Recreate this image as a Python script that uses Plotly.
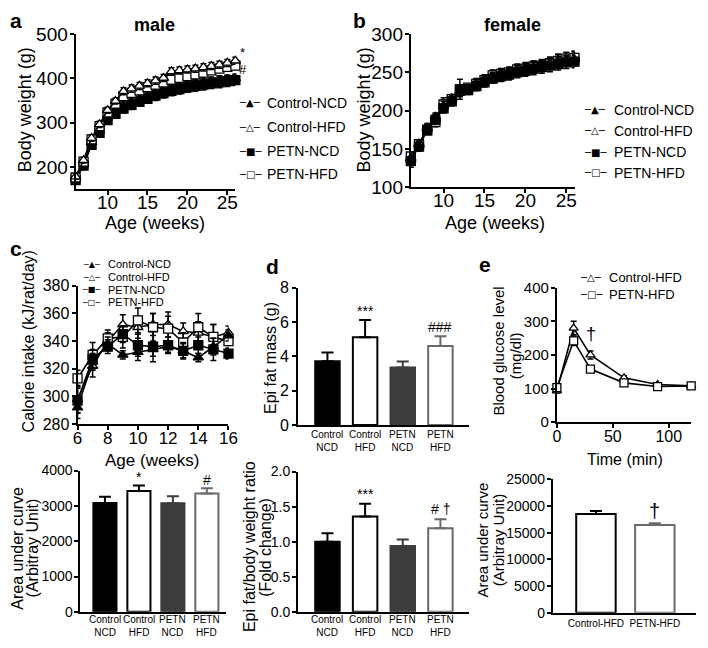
import plotly.graph_objects as go

W, H = 708, 648

# ---------------- data ----------------
groups = ["Control-NCD", "Control-HFD", "PETN-NCD", "PETN-HFD"]
cat_labels = ["Control<br>NCD", "Control<br>HFD", "PETN<br>NCD", "PETN<br>HFD"]

# (a) male body weight
weeks_body = [6, 7, 8, 9, 10, 11, 12, 13, 14, 15, 16, 17, 18, 19, 20, 21, 22, 23, 24, 25, 26]
male_control_ncd = [174, 206, 255, 282, 311, 327, 340, 348, 355, 362, 368, 373, 378, 382, 385, 388, 391, 393, 396, 398, 400]
male_control_hfd = [178, 215, 265, 296, 328, 349, 371, 377, 383, 389, 395, 401, 416, 418, 420, 422, 425, 428, 431, 435, 440]
male_petn_ncd = [170, 203, 250, 277, 306, 320, 332, 340, 347, 354, 361, 367, 372, 376, 380, 383, 386, 389, 391, 394, 396]
male_petn_hfd = [176, 212, 262, 292, 323, 343, 360, 367, 373, 380, 386, 391, 397, 401, 405, 409, 413, 418, 422, 426, 429]
male_err_control_ncd = [8, 8, 8, 8, 8, 8, 9, 9, 9, 9, 9, 9, 9, 9, 9, 10, 10, 10, 10, 10, 10]
male_err_control_hfd = [6, 6, 7, 7, 7, 7, 8, 8, 8, 8, 8, 8, 8, 8, 8, 8, 8, 8, 8, 8, 8]
male_err_petn_ncd = [8, 9, 9, 9, 9, 10, 10, 10, 10, 10, 11, 11, 11, 11, 11, 12, 12, 12, 12, 12, 12]
male_err_petn_hfd = [7, 7, 7, 7, 7, 8, 8, 8, 8, 8, 8, 8, 8, 8, 8, 8, 8, 8, 8, 8, 8]

# (b) female body weight
female_control_ncd = [138, 157, 176, 192, 206, 214, 226, 229, 234, 239, 244, 247, 249, 252, 254, 256, 258, 261, 263, 265, 267]
female_control_hfd = [136, 155, 178, 189, 210, 216, 224, 228, 236, 241, 247, 249, 251, 253, 256, 258, 260, 263, 266, 268, 270]
female_petn_ncd = [134, 153, 174, 188, 203, 212, 228, 227, 232, 237, 242, 245, 247, 250, 252, 255, 257, 259, 261, 263, 264]
female_petn_hfd = [140, 156, 175, 185, 208, 215, 226, 230, 235, 240, 246, 248, 250, 254, 255, 258, 259, 262, 265, 268, 269]
female_err_control_ncd = [7, 5, 5, 5, 6, 5, 6, 5, 6, 6, 6, 6, 6, 7, 7, 7, 7, 7, 7, 7, 7]
female_err_control_hfd = [6, 5, 5, 6, 7, 5, 6, 5, 6, 6, 6, 6, 6, 7, 7, 7, 7, 7, 8, 8, 8]
female_err_petn_ncd = [8, 6, 5, 6, 6, 6, 13, 6, 6, 6, 6, 7, 7, 7, 7, 8, 8, 8, 8, 8, 8]
female_err_petn_hfd = [6, 5, 6, 6, 6, 5, 6, 5, 6, 6, 6, 6, 6, 7, 7, 7, 7, 7, 8, 8, 8]

# (c) calorie intake
weeks_cal = [6, 7, 8, 9, 10, 11, 12, 13, 14, 15, 16]
cal_control_ncd = [292, 325, 338, 330, 332, 334, 336, 333, 328, 336, 344]
cal_control_hfd = [298, 322, 340, 352, 350, 352, 352, 347, 346, 343, 346]
cal_petn_ncd = [297, 327, 336, 345, 337, 336, 337, 333, 337, 334, 331]
cal_petn_hfd = [313, 330, 342, 343, 355, 350, 349, 339, 350, 343, 340]
cal_err_control_ncd = [8, 6, 5, 3, 6, 5, 4, 5, 3, 6, 4]
cal_err_control_hfd = [10, 8, 6, 7, 8, 8, 9, 6, 8, 9, 5]
cal_err_petn_ncd = [9, 7, 5, 6, 8, 11, 6, 6, 6, 8, 4]
cal_err_petn_hfd = [6, 9, 6, 8, 9, 10, 9, 7, 10, 9, 6]

cal_auc = [3080, 3420, 3075, 3350]
cal_auc_err = [180, 160, 200, 150]
cal_auc_marks = ["", "*", "", "#"]

# (d) epididymal fat
epi_fat = [3.72, 5.12, 3.35, 4.60]
epi_fat_err = [0.50, 1.00, 0.36, 0.58]
epi_fat_marks = ["", "***", "", "###"]
epi_ratio = [1.00, 1.36, 0.94, 1.19]
epi_ratio_err = [0.12, 0.18, 0.09, 0.13]
epi_ratio_marks = ["", "***", "", "# \u2020"]

# (e) glucose tolerance
ipgtt_groups = ["Control-HFD", "PETN-HFD"]
time_min = [0, 15, 30, 60, 90, 120]
glucose_control_hfd = [93, 280, 200, 132, 112, 108]
glucose_control_hfd_err = [6, 20, 12, 6, 5, 4]
glucose_petn_hfd = [103, 242, 158, 117, 106, 108]
glucose_petn_hfd_err = [5, 14, 5, 4, 4, 4]
glucose_auc = [18500, 16450]
glucose_auc_err = [550, 320]

# ---------------- styling helpers ----------------
FONT = "Liberation Sans, Arial, sans-serif"
GLYPH = "DejaVu Sans, sans-serif"


def xd(l, r):
    return [l / W, r / W]


def yd(t, b):
    return [1 - b / H, 1 - t / H]


def px(x):
    return x / W


def py(y):
    return 1 - y / H


axis_base = dict(showline=True, linecolor="black", linewidth=2, ticks="outside", ticklen=4,
                 tickwidth=2, tickcolor="black", showgrid=False, zeroline=False,
                 fixedrange=True, color="black")

layout = dict(width=W, height=H, margin=dict(l=0, r=0, t=0, b=0), paper_bgcolor="white",
              plot_bgcolor="white", showlegend=False, barmode="overlay",
              font=dict(family=FONT, color="black"))


def set_axes(i, xdom, ydom, xcfg, ycfg):
    xn = "xaxis" if i == 1 else f"xaxis{i}"
    yn = "yaxis" if i == 1 else f"yaxis{i}"
    layout[xn] = dict(axis_base, domain=xdom, anchor="y" if i == 1 else f"y{i}", **xcfg)
    layout[yn] = dict(axis_base, domain=ydom, anchor="x" if i == 1 else f"x{i}", **ycfg)


def ref(i):
    return ("x", "y") if i == 1 else (f"x{i}", f"y{i}")


# axes layout (pixel positions)
set_axes(1, xd(72, 235), yd(25, 185),
         dict(range=[6, 26], tickvals=[10, 15, 20, 25], tickfont=dict(size=19), ticklabelstandoff=-9),
         dict(range=[150, 500], tickvals=[200, 300, 400, 500], tickfont=dict(size=19), ticklabelstandoff=-2))
set_axes(2, xd(414, 581), yd(25, 183),
         dict(range=[6, 26], tickvals=[10, 15, 20, 25], tickfont=dict(size=19), ticklabelstandoff=-9),
         dict(range=[100, 300], tickvals=[100, 150, 200, 250, 300], tickfont=dict(size=19),
              ticklabelstandoff=-2))
set_axes(3, xd(74, 228), yd(285, 428),
         dict(range=[6, 16], tickvals=[6, 8, 10, 12, 14, 16], tickfont=dict(size=17), ticklabelstandoff=-7),
         dict(range=[280, 380], tickvals=[280, 300, 320, 340, 360, 380], tickfont=dict(size=16),
              ticklabelstandoff=-1))
set_axes(4, xd(77, 225), yd(476, 622),
         dict(type="category", range=[-0.72, 3.55], ticks="", showticklabels=False),
         dict(range=[0, 4000], tickvals=[0, 1000, 2000, 3000, 4000], tickfont=dict(size=14),
              ticklabelstandoff=-1))
set_axes(5, xd(299, 473), yd(287, 429),
         dict(type="category", range=[-0.78, 3.75], ticks="", showticklabels=False),
         dict(range=[0, 8], tickvals=[0, 2, 4, 6, 8], tickfont=dict(size=16)))
set_axes(6, xd(299, 473), yd(477, 622),
         dict(type="category", range=[-0.78, 3.75], ticks="", showticklabels=False),
         dict(range=[0, 2], tickvals=[0, 0.5, 1, 1.5, 2], tickformat=".1f", tickfont=dict(size=14),
              ticklabelstandoff=-1))
set_axes(7, xd(563, 700), yd(287, 426),
         dict(range=[0, 120], tickvals=[0, 50, 100], tickfont=dict(size=16), ticklabelstandoff=-5),
         dict(range=[0, 400], tickvals=[0, 100, 200, 300, 400], tickfont=dict(size=15),
              ticklabelstandoff=-1))
set_axes(8, xd(559, 705), yd(485, 623),
         dict(type="category", range=[-0.73, 1.7], ticks="", tickfont=dict(size=10)),
         dict(range=[0, 25000], tickvals=[0, 5000, 10000, 15000, 20000, 25000], tickformat="d",
              tickfont=dict(size=14), ticklabelstandoff=-1))

fig = go.Figure()

# ---------------- line charts ----------------
line_styles = {
    "Control-NCD": dict(symbol="triangle-up", color="black"),
    "Control-HFD": dict(symbol="triangle-up", color="white"),
    "PETN-NCD": dict(symbol="square", color="black"),
    "PETN-HFD": dict(symbol="square", color="white"),
}


def add_lines(i, xs, series, errs, names, msize):
    xr, yr = ref(i)
    for name, ys, es in zip(names, series, errs):
        st = line_styles[name]
        fig.add_trace(go.Scatter(
            x=xs, y=ys, mode="lines+markers", name=name, xaxis=xr, yaxis=yr,
            line=dict(color="black", width=1.6),
            marker=dict(symbol=st["symbol"], size=msize, color=st["color"],
                        line=dict(color="black", width=1.3)),
            error_y=dict(type="data", array=es, color="black", thickness=1.5, width=3),
            cliponaxis=False))


add_lines(1, weeks_body,
          [male_control_ncd, male_petn_ncd, male_petn_hfd, male_control_hfd],
          [male_err_control_ncd, male_err_petn_ncd, male_err_petn_hfd, male_err_control_hfd],
          ["Control-NCD", "PETN-NCD", "PETN-HFD", "Control-HFD"], 9)
add_lines(2, weeks_body,
          [female_control_hfd, female_petn_hfd, female_control_ncd, female_petn_ncd],
          [female_err_control_hfd, female_err_petn_hfd, female_err_control_ncd, female_err_petn_ncd],
          ["Control-HFD", "PETN-HFD", "Control-NCD", "PETN-NCD"], 9)
add_lines(3, weeks_cal,
          [cal_control_hfd, cal_petn_hfd, cal_control_ncd, cal_petn_ncd],
          [cal_err_control_hfd, cal_err_petn_hfd, cal_err_control_ncd, cal_err_petn_ncd],
          ["Control-HFD", "PETN-HFD", "Control-NCD", "PETN-NCD"], 9)
add_lines(7, time_min,
          [glucose_control_hfd, glucose_petn_hfd],
          [glucose_control_hfd_err, glucose_petn_hfd_err],
          ["Control-HFD", "PETN-HFD"], 8)

# ---------------- bar charts ----------------
bar_fill = {"Control-NCD": "black", "Control-HFD": "white", "PETN-NCD": "#3c3c3c", "PETN-HFD": "white"}
bar_edge = {"Control-NCD": "black", "Control-HFD": "black", "PETN-NCD": "#3c3c3c", "PETN-HFD": "#6a6a6a"}


def add_bars(i, cats, vals, errs, width):
    xr, yr = ref(i)
    for c, v, e in zip(cats, vals, errs):
        fig.add_trace(go.Bar(
            x=[c], y=[v], width=width, xaxis=xr, yaxis=yr, name=c,
            marker=dict(color=bar_fill[c], line=dict(color=bar_edge[c], width=2)),
            error_y=dict(type="data", array=[e], arrayminus=[0], symmetric=False,
                         color=bar_edge[c], thickness=2, width=6)))


add_bars(4, groups, cal_auc, cal_auc_err, 0.68)
add_bars(5, groups, epi_fat, epi_fat_err, 0.65)
add_bars(6, groups, epi_ratio, epi_ratio_err, 0.65)
add_bars(8, ipgtt_groups, glucose_auc, glucose_auc_err, 0.67)

# ---------------- annotations ----------------
anns = []


def ann(x, y, text, size, angle=0, bold=False, family=FONT, xanchor="center"):
    t = f"<b>{text}</b>" if bold else text
    anns.append(dict(x=px(x), y=py(y), xref="paper", yref="paper", text=t, showarrow=False,
                     textangle=angle, xanchor=xanchor, yanchor="middle", borderpad=0,
                     font=dict(size=size, family=family, color="black")))


# panel letters & titles
ann(11, 11, "a", 21, bold=True)
ann(362, 11, "b", 21, bold=True)
ann(11, 247, "c", 21, bold=True)
ann(273, 265, "d", 21, bold=True)
ann(490, 263, "e", 21, bold=True)
ann(153, 16, "male", 18, bold=True)
ann(518, 16, "female", 18, bold=True)

# axis titles
ann(20, 103, "Body weight (g)", 18, angle=-90)
ann(153, 220, "Age (weeks)", 18)
ann(366, 103, "Body weight (g)", 18, angle=-90)
ann(500, 220, "Age (weeks)", 18)
ann(24, 343, "Calorie intake (kJ/rat/day)", 16, angle=-90)
ann(150, 466, "Age (weeks)", 17)
ann(13, 556, "Area under curve", 16, angle=-90)
ann(29, 556, "(Arbitray Unit)", 16, angle=-90)
ann(271, 360, "Epi fat mass (g)", 16, angle=-90)
ann(249, 555, "Epi fat/body weight ratio", 16, angle=-90)
ann(265, 555, "(Fold change)", 16, angle=-90)
ann(504, 353, "Blood glucose level", 15, angle=-90)
ann(521, 357, "(mg/dl)", 15, angle=-90)
ann(633, 465, "Time (min)", 16)
ann(487, 548, "Area under curve", 15, angle=-90)
ann(503, 548, "(Arbitray Unit)", 15, angle=-90)

# significance marks (a, e top)
ann(243, 53, "*<br>#", 13)
ann(598, 335, "\u2020", 18)

# legends
legend_glyph = {"Control-NCD": "\u2500\u25B2\u2500", "Control-HFD": "\u2500\u25B3\u2500",
                "PETN-NCD": "\u2500\u25A0\u2500", "PETN-HFD": "\u2500\u25A1\u2500"}


def legend(gx, tx, ys, names, size, gsize):
    for y, n in zip(ys, names):
        ann(gx, y, legend_glyph[n], gsize, family=GLYPH)
        ann(tx, y, n, size, xanchor="left")


legend(250, 266, [96, 121, 146, 170], groups, 14, 10)
legend(602, 620, [103, 125, 147, 168], groups, 14, 10)
legend(88, 104, [263, 276, 289, 302], groups, 11, 8)
legend(598, 615, [276, 294], ipgtt_groups, 13, 10)

# bar chart category labels and marks
for i, vals, errs, marks, off in [(4, cal_auc, cal_auc_err, cal_auc_marks, 230),
                                  (5, epi_fat, epi_fat_err, epi_fat_marks, 0.55),
                                  (6, epi_ratio, epi_ratio_err, epi_ratio_marks, 0.14)]:
    xr, yr = ref(i)
    ylab = 445.5 if i == 5 else 637
    for c, lab, v, e, m in zip(groups, cat_labels, vals, errs, marks):
        anns.append(dict(x=c, xref=xr, y=py(ylab), yref="paper", text=lab, showarrow=False,
                         yanchor="middle", borderpad=0, font=dict(size=10, family=FONT)))
        if m:
            anns.append(dict(x=c, xref=xr, y=v + e + off, yref=yr, text=m, showarrow=False,
                             yanchor="middle", font=dict(size=14, family=FONT)))

xr, yr = ref(8)
anns.append(dict(x=ipgtt_groups[1], xref=xr, y=glucose_auc[1] + glucose_auc_err[1] + 2200, yref=yr,
                 text="\u2020", showarrow=False, font=dict(size=20, family=FONT)))

layout["annotations"] = anns
fig.update_layout(**layout)
fig.write_html("out.html", config={"displayModeBar": False},
               post_script="document.body.style.margin='0';document.body.style.overflow='hidden';")
